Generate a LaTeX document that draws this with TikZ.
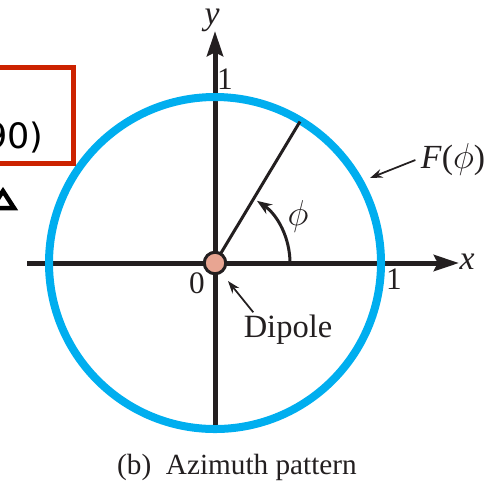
\documentclass[tikz,border=0pt]{standalone}
\usepackage{fontspec}
\setmainfont{Liberation Serif}
\newfontfamily\boxfont{DejaVu Sans}
\usetikzlibrary{arrows.meta, positioning}
\definecolor{patblue}{HTML}{00AEEF}
\definecolor{dipolefill}{HTML}{E8A592}
\definecolor{notered}{HTML}{CC2200}
\definecolor{inkblack}{HTML}{231F20}
\tikzset{
  % Axes with large arrow heads
  axisline/.style={
    line width=2pt, draw=inkblack,
    -{Stealth[length=10pt, width=6.4pt, inset=1.5pt]},
  },
  % Pattern circle
  pattern/.style={draw=patblue, line width=3.2pt},
  % Radial line and angle arc
  radial/.style={draw=inkblack, line width=1.2pt},
  anglearc/.style={draw=inkblack, line width=1.2pt,
    -{Stealth[length=6pt, width=4.5pt]}},
  % Small label pointers
  pointer/.style={draw=inkblack, line width=0.7pt,
    -{Stealth[length=5pt, width=3.5pt]}},
  % Dipole source
  dipole/.style={circle, draw=inkblack, fill=dipolefill,
    line width=1.2pt, minimum size=8.6pt, inner sep=0pt},
  % Text labels
  axlabel/.style={font=\fontsize{13.5}{15}\selectfont, text=inkblack, inner sep=0pt},
  ticklabel/.style={font=\fontsize{12.5}{14}\selectfont, text=inkblack, inner sep=0pt},
  lbltext/.style={font=\fontsize{13}{15}\selectfont, text=inkblack, inner sep=0pt},
  captiontext/.style={font=\fontsize{11.7}{13}\selectfont, text=inkblack, inner sep=0pt},
  % Cut-off note box
  notebox/.style={draw=notered, line width=2pt},
  boxtext/.style={font=\boxfont\fontsize{14}{16}\selectfont, text=black, inner sep=0pt},
}

\begin{document}
\begin{tikzpicture}[x=0.4pt, y=0.4pt]

  \useasboundingbox (0,0) rectangle (497,-489);
  \clip (0,0) rectangle (497,-489);

  % Axes
  \coordinate (O) at (215,-263);
  \coordinate (xleft) at (27,-263);
  \coordinate (xright) at (459,-263);
  \coordinate (ybot) at (215,-426);
  \coordinate (ytop) at (215,-31);
  \draw[axisline] (xleft) -- (xright);
  \draw[axisline] (ybot) -- (ytop);

  % Pattern
  \draw[pattern] (O) circle[radius=66.4pt];

  % Direction phi
  \coordinate (rtip) at ([shift={(59:66pt)}]O);
  \draw[radial] (O) -- (rtip);
  \draw[anglearc] ([shift={(0:30pt)}]O) arc[start angle=0, end angle=56, radius=30pt];

  % Dipole
  \node[dipole] (dipole) at (O) {};

  % Labels
  \node[axlabel] (ylbl) at (212,-20) {\textit{y}};
  \node[axlabel] (xlbl) at (467,-262) {\textit{x}};
  \node[ticklabel] (yone) at (225,-79) {1};
  \node[ticklabel] (xone) at (394,-279) {1};
  \node[ticklabel] (zero) at (197,-283) {0};
  \node[axlabel] (philbl) at (298,-216) {$\phi$};
  \node[axlabel] (flbl) at (453,-160) {\textit{F}($\phi$)};
  \node[lbltext] (dipolelbl) at (288,-330) {Dipole};
  \node[captiontext] (caption) at (237,-467) {(b)\ \ Azimuth pattern};

  % Pointers
  \coordinate (ftip) at (370,-178);
  \coordinate (dtip) at (228,-281);
  \draw[pointer] ([xshift=-2pt]flbl.west) -- (ftip);
  \draw[pointer] ([shift={(4pt,1pt)}]dipolelbl.north west) -- (dtip);

  % Cut-off note at the left edge
  \draw[notebox] (-10,-67) rectangle (73,-163);
  \node[boxtext, anchor=base east] (notetxt) at (44,-148) {90)};
  \draw[line width=1.8pt, draw=black] (-8,-208) -- (3,-191) -- (14,-208) -- cycle;

\end{tikzpicture}
\end{document}
